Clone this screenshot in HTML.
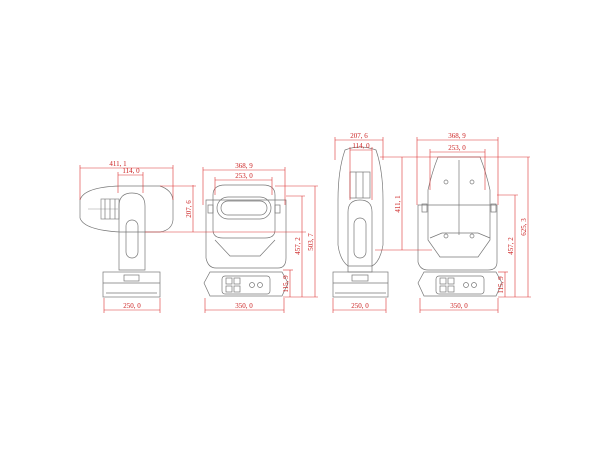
<!DOCTYPE html>
<html><head><style>html,body{margin:0;padding:0;background:#fff}svg{display:block}</style></head>
<body>
<svg width="610" height="450" viewBox="0 0 610 450" xmlns="http://www.w3.org/2000/svg" font-family="Liberation Serif, serif" font-size="7">
<g fill="none" stroke="#777" stroke-width="0.7">
<!-- View 1 side -->
<path d="M80 200 Q84 187 120 186 L160 186 Q172 190 173 200 L173 220 Q172 230 160 232 L120 232 Q84 230 80 218 Z"/>
<line x1="88" y1="209" x2="118" y2="209" stroke="#bbb"/>
<rect x="101" y="199" width="18" height="20" stroke="#888"/>
<line x1="105" y1="199" x2="105" y2="219"/><line x1="110" y1="199" x2="110" y2="219"/><line x1="115" y1="199" x2="115" y2="219"/>
<path d="M119 270 L119 206 Q119 193 132 193 Q145 193 145 206 L145 270 Z"/>
<rect x="126" y="220" width="12" height="38" rx="6"/>
<rect x="103" y="272" width="57" height="25"/>
<rect x="124" y="275" width="15" height="6"/>
<line x1="103" y1="283" x2="160" y2="283"/><line x1="106" y1="293" x2="157" y2="293"/>
<!-- View 2 front -->
<path d="M206 200 L206 258 Q208 268 216 268 L278 268 Q286 268 286 258 L286 200 Z"/>
<path d="M213 195 Q213 185 225 185 L263 185 Q275 185 275 195 L275 230 Q275 238 265 238 L223 238 Q213 238 213 230 Z"/>
<rect x="217" y="197" width="54" height="22" rx="11"/>
<rect x="221" y="201" width="46" height="14" rx="7"/>
<path d="M215 240 L230 256 L260 256 L275 240"/>
<rect x="208" y="205" width="5" height="8"/><rect x="275" y="205" width="5" height="8"/>
<path d="M210 272 L282 272 L288 283 L282 296 L210 296 L204 283 Z"/>
<rect x="222" y="276" width="48" height="18" rx="3"/>
<rect x="226" y="278" width="6" height="6"/><rect x="234" y="278" width="6" height="6"/><rect x="226" y="286" width="6" height="6"/><rect x="234" y="286" width="6" height="6"/>
<circle cx="252" cy="285" r="2.5"/><circle cx="260" cy="285" r="2.5"/>
<!-- View 3 side (tilted) -->
<path d="M345 150 Q360 144 376 150 Q383 170 383 200 L383 245 Q380 262 372 266 L348 266 Q340 260 338 245 L338 200 Q338 170 345 150 Z"/>
<rect x="350" y="172" width="20" height="26"/>
<line x1="356" y1="172" x2="356" y2="198"/><line x1="363" y1="172" x2="363" y2="198"/>
<path d="M348 272 L348 212 Q348 200 360 200 Q372 200 372 212 L372 272 Z"/>
<rect x="354" y="218" width="12" height="40" rx="6"/>
<rect x="333" y="272" width="55" height="25"/>
<rect x="352" y="275" width="16" height="6"/>
<line x1="333" y1="283" x2="388" y2="283"/><line x1="335" y1="293" x2="386" y2="293"/>
<!-- View 4 front (tilted) -->
<path d="M418 205 L418 262 Q420 270 428 270 L488 270 Q497 270 497 262 L497 205 Z"/>
<path d="M438 157 L480 157 Q486 172 490 190 L490 240 L478 257 L440 257 L428 240 L428 190 Q432 172 438 157 Z"/>
<line x1="459" y1="160" x2="459" y2="235"/>
<path d="M430 238 L442 233 L478 233 L490 238"/>
<circle cx="446" cy="182" r="2"/><circle cx="472" cy="182" r="2"/><circle cx="446" cy="236" r="2"/><circle cx="472" cy="236" r="2"/>
<rect x="422" y="204" width="5" height="8"/><rect x="491" y="204" width="5" height="8"/>
<path d="M424 272 L496 272 L502 283 L496 296 L424 296 L418 283 Z"/>
<rect x="436" y="276" width="48" height="18" rx="3"/>
<rect x="440" y="278" width="6" height="6"/><rect x="448" y="278" width="6" height="6"/><rect x="440" y="286" width="6" height="6"/><rect x="448" y="286" width="6" height="6"/>
<circle cx="466" cy="285" r="2.5"/><circle cx="474" cy="285" r="2.5"/>
</g>
<g stroke="#d33" stroke-width="0.6" fill="none">
<!-- v1 dims -->
<line x1="80" y1="168" x2="173" y2="168"/><line x1="80" y1="165" x2="80" y2="200"/><line x1="173" y1="165" x2="173" y2="200"/>
<line x1="118" y1="175" x2="143" y2="175"/><line x1="118" y1="172" x2="118" y2="193"/><line x1="143" y1="172" x2="143" y2="193"/>
<line x1="193" y1="185" x2="193" y2="232"/><line x1="160" y1="186" x2="196" y2="186"/><line x1="145" y1="232" x2="306" y2="232"/>
<line x1="104" y1="310" x2="160" y2="310"/><line x1="104" y1="298" x2="104" y2="313"/><line x1="160" y1="298" x2="160" y2="313"/>
<!-- v2 dims -->
<line x1="203" y1="170" x2="285" y2="170"/><line x1="203" y1="167" x2="203" y2="205"/><line x1="285" y1="167" x2="285" y2="205"/>
<line x1="215" y1="180" x2="272" y2="180"/><line x1="215" y1="177" x2="215" y2="195"/><line x1="272" y1="177" x2="272" y2="195"/>
<line x1="275" y1="186" x2="318" y2="186"/><line x1="286" y1="196" x2="305" y2="196"/>
<line x1="302" y1="196" x2="302" y2="297"/><line x1="315" y1="186" x2="315" y2="297"/><line x1="290" y1="270" x2="290" y2="297"/>
<line x1="283" y1="270" x2="293" y2="270"/><line x1="283" y1="297" x2="318" y2="297"/>
<line x1="205" y1="310" x2="284" y2="310"/><line x1="205" y1="298" x2="205" y2="313"/><line x1="284" y1="298" x2="284" y2="313"/>
<!-- v3 dims -->
<line x1="335" y1="140" x2="383" y2="140"/><line x1="335" y1="137" x2="335" y2="160"/><line x1="383" y1="137" x2="383" y2="160"/>
<line x1="350" y1="150" x2="372" y2="150"/><line x1="350" y1="147" x2="350" y2="200"/><line x1="372" y1="147" x2="372" y2="200"/>
<line x1="402" y1="157" x2="402" y2="250"/><line x1="380" y1="157" x2="530" y2="157"/><line x1="375" y1="250" x2="432" y2="250"/>
<line x1="333" y1="310" x2="386" y2="310"/><line x1="333" y1="298" x2="333" y2="313"/><line x1="386" y1="298" x2="386" y2="313"/>
<!-- v4 dims -->
<line x1="417" y1="140" x2="498" y2="140"/><line x1="417" y1="137" x2="417" y2="205"/><line x1="498" y1="137" x2="498" y2="205"/>
<line x1="430" y1="152" x2="485" y2="152"/><line x1="430" y1="149" x2="430" y2="190"/><line x1="485" y1="149" x2="485" y2="190"/>
<line x1="497" y1="195" x2="518" y2="195"/>
<line x1="515" y1="195" x2="515" y2="297"/><line x1="528" y1="157" x2="528" y2="297"/><line x1="505" y1="272" x2="505" y2="297"/>
<line x1="498" y1="272" x2="508" y2="272"/><line x1="498" y1="297" x2="531" y2="297"/>
<line x1="420" y1="310" x2="498" y2="310"/><line x1="420" y1="298" x2="420" y2="313"/><line x1="498" y1="298" x2="498" y2="313"/>
</g>
<g fill="#c22">
<text x="118" y="166" text-anchor="middle">411, 1</text>
<text x="131" y="173" text-anchor="middle">114, 0</text>
<text x="191" y="209" text-anchor="middle" transform="rotate(-90 191 209)">207, 6</text>
<text x="132" y="308" text-anchor="middle">250, 0</text>
<text x="244" y="168" text-anchor="middle">368, 9</text>
<text x="244" y="178" text-anchor="middle">253, 0</text>
<text x="300" y="246" text-anchor="middle" transform="rotate(-90 300 246)">457, 2</text>
<text x="313" y="242" text-anchor="middle" transform="rotate(-90 313 242)">503, 7</text>
<text x="288" y="284" text-anchor="middle" transform="rotate(-90 288 284)">115, 9</text>
<text x="244" y="308" text-anchor="middle">350, 0</text>
<text x="359" y="138" text-anchor="middle">207, 6</text>
<text x="361" y="148" text-anchor="middle">114, 0</text>
<text x="400" y="204" text-anchor="middle" transform="rotate(-90 400 204)">411, 1</text>
<text x="360" y="308" text-anchor="middle">250, 0</text>
<text x="457" y="138" text-anchor="middle">368, 9</text>
<text x="457" y="150" text-anchor="middle">253, 0</text>
<text x="513" y="246" text-anchor="middle" transform="rotate(-90 513 246)">457, 2</text>
<text x="526" y="227" text-anchor="middle" transform="rotate(-90 526 227)">625, 3</text>
<text x="503" y="285" text-anchor="middle" transform="rotate(-90 503 285)">115, 9</text>
<text x="459" y="308" text-anchor="middle">350, 0</text>
</g>
</svg>
</body></html>
